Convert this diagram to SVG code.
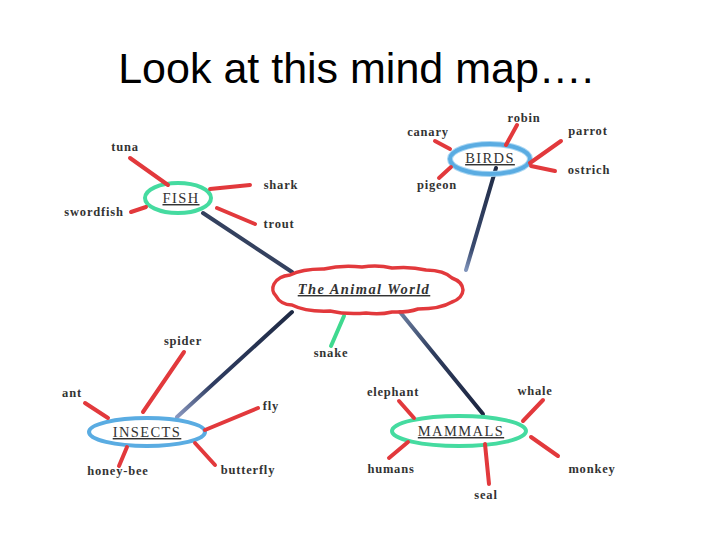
<svg xmlns="http://www.w3.org/2000/svg" width="720" height="540" viewBox="0 0 720 540">
<defs>
<style>
.title{font-family:"Liberation Sans",Arial,sans-serif;font-size:43px;fill:#000;text-anchor:middle}
.lbl{font-family:"Liberation Serif","Times New Roman",serif;font-size:12.5px;font-weight:bold;fill:#333;text-anchor:middle;letter-spacing:0.8px}
.hub{font-family:"Liberation Serif","Times New Roman",serif;font-size:14.5px;fill:#333;text-anchor:middle;text-decoration:underline;letter-spacing:1.4px}
.red{stroke:#e2393c;stroke-width:4;stroke-linecap:round;fill:none}
.dark{stroke-width:4;stroke-linecap:round;fill:none}
.green{stroke:#3fd98f;stroke-width:4;stroke-linecap:round;fill:none}
.bluering{fill:none;stroke:#5aace2;stroke-width:4}
.greenring{fill:none;stroke:#45dba0;stroke-width:4}
</style>
<linearGradient id="gIns" gradientUnits="userSpaceOnUse" x1="292" y1="312" x2="177" y2="417">
<stop offset="0" stop-color="#1f2a44"/><stop offset="0.7" stop-color="#2f3d62"/><stop offset="1" stop-color="#8a98c0"/>
</linearGradient>
<linearGradient id="gMam" gradientUnits="userSpaceOnUse" x1="400" y1="312" x2="483" y2="414">
<stop offset="0" stop-color="#6b7ea0"/><stop offset="0.4" stop-color="#2f3d5e"/><stop offset="1" stop-color="#1c2540"/>
</linearGradient>
<linearGradient id="gBird" gradientUnits="userSpaceOnUse" x1="496" y1="168" x2="466" y2="270">
<stop offset="0" stop-color="#1f2a44"/><stop offset="0.8" stop-color="#3a4b70"/><stop offset="1" stop-color="#8094bb"/>
</linearGradient>
</defs>
<rect width="720" height="540" fill="#fff"/>
<text class="title" x="356" y="83">Look at this mind map….</text>

<g id="connectors">
<line class="dark" stroke="#34415f" x1="203" y1="213" x2="292" y2="272"/>
<line class="dark" stroke="url(#gBird)" x1="496" y1="168" x2="466" y2="270"/>
<line class="dark" stroke="url(#gIns)" x1="292" y1="312" x2="177" y2="417"/>
<line class="dark" stroke="url(#gMam)" x1="400" y1="312" x2="483" y2="414"/>
<line class="green" x1="344" y1="316" x2="331" y2="346"/>
</g>

<g id="animal-world">
<path d="M463 290 A20 14 0 0 1 452 302 A40 14 0 0 1 418 309 A30 10 0 0 1 392 312 A30 12 0 0 1 366 313 A40 12 0 0 1 330 311 A40 14 0 0 1 292 305 A18 14 0 0 1 276 296 A10 10 0 0 1 274 284 A20 14 0 0 1 290 275 A40 14 0 0 1 324 269 A40 12 0 0 1 362 267 A30 10 0 0 1 392 268 A40 14 0 0 1 426 270 A30 14 0 0 1 452 278 A20 14 0 0 1 463 290 Z" fill="none" stroke="#e2393c" stroke-width="3.5" stroke-linejoin="round"/>
<text class="hub" x="364" y="294" font-style="italic" font-weight="bold" letter-spacing="0.6">The Animal World</text>
</g>

<g id="fish">
<ellipse class="greenring" cx="178" cy="198" rx="33" ry="15"/>
<text class="hub" x="181" y="203">FISH</text>
<line class="red" x1="130" y1="158" x2="168" y2="185"/>
<line class="red" x1="210" y1="189" x2="250" y2="185"/>
<line class="red" x1="131" y1="212" x2="146" y2="207"/>
<line class="red" x1="217" y1="208" x2="255" y2="224"/>
<text class="lbl" x="125" y="151">tuna</text>
<text class="lbl" x="281" y="189">shark</text>
<text class="lbl" x="94" y="216">swordfish</text>
<text class="lbl" x="279" y="228">trout</text>
</g>

<g id="birds">
<ellipse cx="490" cy="159" rx="40" ry="15" fill="none" stroke="#a8d6f3" stroke-width="6"/>
<ellipse class="bluering" cx="490" cy="159" rx="40" ry="15" stroke-width="2.5"/>
<text class="hub" x="490" y="163">BIRDS</text>
<line class="red" x1="506" y1="145" x2="517" y2="125"/>
<line class="red" x1="435" y1="141" x2="450" y2="149"/>
<line class="red" x1="530" y1="163" x2="561" y2="141"/>
<line class="red" x1="531" y1="166" x2="555" y2="171"/>
<line class="red" x1="439" y1="178" x2="451" y2="167"/>
<text class="lbl" x="524" y="122">robin</text>
<text class="lbl" x="428" y="136">canary</text>
<text class="lbl" x="588" y="135">parrot</text>
<text class="lbl" x="589" y="174">ostrich</text>
<text class="lbl" x="437" y="189">pigeon</text>
</g>

<g id="snake">
<text class="lbl" x="331" y="357">snake</text>
</g>

<g id="insects">
<ellipse class="bluering" cx="147" cy="432" rx="58" ry="14"/>
<text class="hub" x="147" y="437">INSECTS</text>
<line class="red" x1="143" y1="412" x2="184" y2="352"/>
<line class="red" x1="85" y1="403" x2="108" y2="418"/>
<line class="red" x1="205" y1="430" x2="258" y2="408"/>
<line class="red" x1="127" y1="447" x2="119" y2="466"/>
<line class="red" x1="195" y1="443" x2="215" y2="465"/>
<text class="lbl" x="183" y="345">spider</text>
<text class="lbl" x="72" y="397">ant</text>
<text class="lbl" x="271" y="410">fly</text>
<text class="lbl" x="118" y="475">honey-bee</text>
<text class="lbl" x="248" y="474">butterfly</text>
</g>

<g id="mammals">
<ellipse class="greenring" cx="459" cy="431" rx="67" ry="15"/>
<text class="hub" x="461" y="436">MAMMALS</text>
<line class="red" x1="399" y1="401" x2="414" y2="418"/>
<line class="red" x1="523" y1="421" x2="543" y2="400"/>
<line class="red" x1="389" y1="458" x2="408" y2="442"/>
<line class="red" x1="531" y1="437" x2="558" y2="456" stroke="#f08a8a"/>
<line class="red" x1="485" y1="444" x2="489" y2="484"/>
<text class="lbl" x="393" y="396">elephant</text>
<text class="lbl" x="535" y="395">whale</text>
<text class="lbl" x="391" y="473">humans</text>
<text class="lbl" x="592" y="473">monkey</text>
<text class="lbl" x="486" y="499">seal</text>
</g>
</svg>
